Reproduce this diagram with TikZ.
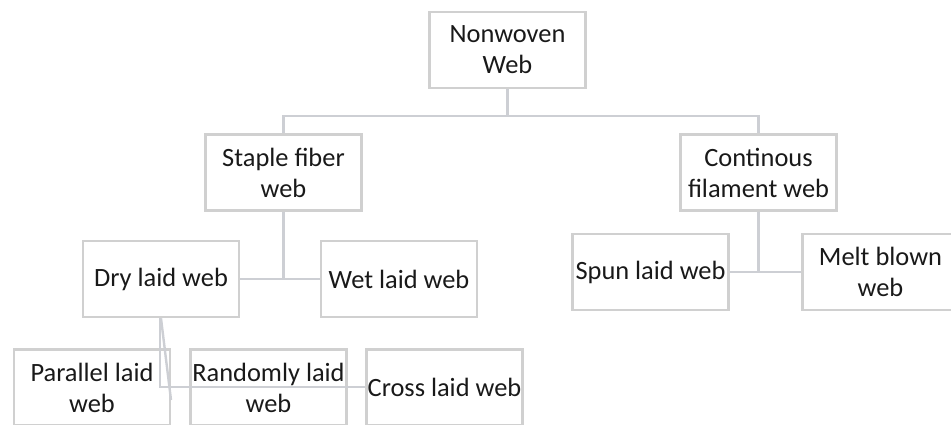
\documentclass[tikz,border=0pt]{standalone}
\usepackage{fontspec}
\setmainfont{Carlito}
\definecolor{boxgray}{RGB}{208,208,208}
\definecolor{linegray}{RGB}{205,207,212}
\begin{document}
\begin{tikzpicture}[x=1pt,y=-1pt,
  wbox/.style={draw=boxgray,line width=2.6pt,minimum width=156pt,minimum height=76pt,
    inner sep=0pt,align=center,font=\fontsize{26.4}{31}\selectfont,text=black!90},
  conn/.style={draw=linegray,line width=2.4pt}]
\useasboundingbox (0,0) rectangle (951,424);
\node[wbox] (nw) at (507.5,50) {Nonwoven\\Web};
\node[wbox] (sf) at (283.5,172.5) {Staple fiber\\web};
\node[wbox] (cf) at (758.5,172.5) {Continous\\filament web};
\node[wbox] (dry) at (161,279) {Dry laid web};
\node[wbox] (wet) at (399,279) {Wet laid web};
\node[wbox] (spun) at (650.5,272) {Spun laid web};
\node[wbox] (melt) at (880.5,272) {Melt blown\\web};
\node[wbox] (par) at (92,387.5) {Parallel laid\\web};
\node[wbox] (ran) at (268.5,387.5) {Randomly laid\\web};
\node[wbox] (cro) at (444.5,387.5) {Cross laid web};
\coordinate (j1) at (507.5,116);
\coordinate (j2) at (283.5,279);
\coordinate (j3) at (758.5,272);
\coordinate (j4) at (160,387);
\coordinate (j5) at (171,400);
\draw[conn] (nw.south) -- (j1) -| (sf.north);
\draw[conn] (j1) -| (cf.north);
\draw[conn] (sf.south) -- (j2);
\draw[conn] (dry.east) -- (wet.west);
\draw[conn] (cf.south) -- (j3);
\draw[conn] (spun.east) -- (melt.west);
\draw[conn] (dry.south -| j4) -- (j4) -- (j4 -| cro.west);
\draw[conn] (dry.south) -- (j5);
\end{tikzpicture}
\end{document}
